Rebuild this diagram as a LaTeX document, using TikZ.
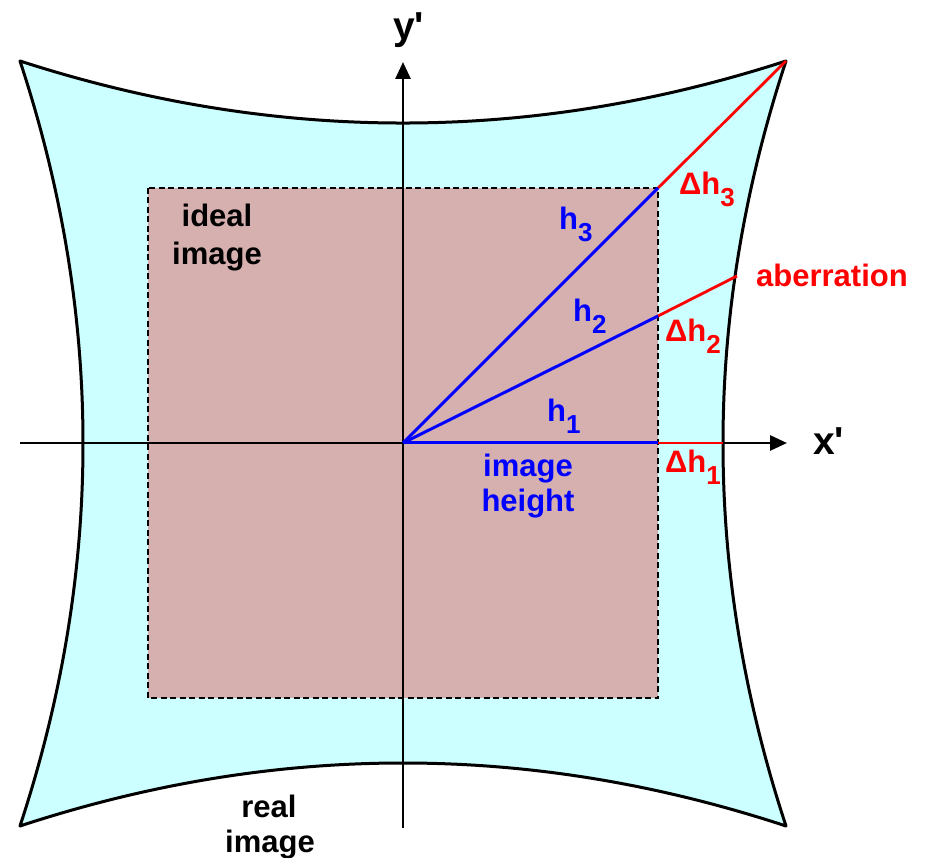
\documentclass[tikz,border=0pt]{standalone}
\usepackage{fontspec}
\setmainfont{Liberation Sans}[Ligatures=TeXOff]
\usetikzlibrary{arrows.meta}
\definecolor{realcol}{RGB}{204,255,255}
\definecolor{idealcol}{RGB}{214,175,175}
\definecolor{hblue}{RGB}{0,0,255}
\definecolor{hred}{RGB}{255,0,0}
\newcommand{\lowsub}[1]{\raisebox{-12pt}{\fontsize{26}{26}\selectfont #1}}
\begin{document}
\begin{tikzpicture}[x=1pt,y=-1pt,
  lbl/.style={inner sep=0pt,font=\fontsize{31}{35}\selectfont\bfseries},
  axislbl/.style={inner sep=0pt,font=\fontsize{39}{39}\selectfont\bfseries},
  axisline/.style={line width=2.8pt,-{Triangle[length=17pt,width=15pt]}},
  bluel/.style={hblue,line width=3pt},
  redl/.style={hred,line width=2.8pt},
  outline/.style={line width=3pt,line join=round}]
\useasboundingbox (0,0) rectangle (930,858);
% key points
\coordinate (TL) at (20,61);
\coordinate (TR) at (786,61);
\coordinate (BR) at (786,826);
\coordinate (BL) at (20,826);
\coordinate (O) at (403,443);
\coordinate (RTL) at (148,188);
\coordinate (RBR) at (658,698);
\coordinate (P3) at (658,188);
\coordinate (P2) at (658,316);
\coordinate (P1) at (658,443);
\coordinate (E2) at (737,276);
\coordinate (E1) at (723,443);
\coordinate (XS) at (20,443);
\coordinate (XE) at (787,443);
\coordinate (YS) at (403,828);
\coordinate (YE) at (403,62);
% real (distorted) image
\fill[realcol] (TL) .. controls (275.3,143.7) and (530.7,143.7) .. (TR)
  .. controls (702,316) and (702,571) .. (BR)
  .. controls (530.7,742) and (275.3,742) .. (BL)
  .. controls (104,571) and (104,316) .. (TL) -- cycle;
\draw[outline] (TL) .. controls (275.3,143.7) and (530.7,143.7) .. (TR)
  .. controls (702,316) and (702,571) .. (BR)
  .. controls (530.7,742) and (275.3,742) .. (BL)
  .. controls (104,571) and (104,316) .. (TL) -- cycle;
% ideal image
\fill[idealcol] (RTL) rectangle (RBR);
\draw[line width=2.4pt,dash pattern=on 6pt off 3.5pt] (RTL) rectangle (RBR);
% axes
\draw[axisline] (XS) -- (XE);
\draw[axisline] (YS) -- (YE);
% red aberrations
\draw[redl] (P3) -- (TR);
\draw[redl] (P2) -- (E2);
\draw[redl] (P1) -- (E1);
% blue heights
\draw[bluel] (O) -- (P3);
\draw[bluel] (O) -- (P2);
\draw[bluel] (O) -- (P1);
% labels
\node[axislbl,anchor=base west] (ylab) at (393,40) {y'};
\node[axislbl,anchor=base west] (xlab) at (813,455) {x'};
\node[lbl,hblue,anchor=base west] (h3) at (559,230) {h\lowsub{3}};
\node[lbl,hblue,anchor=base west] (h2) at (573,322) {h\lowsub{2}};
\node[lbl,hblue,anchor=base west] (h1) at (547,422) {h\lowsub{1}};
\node[lbl,hred,anchor=base west] (dh3) at (679,195) {Δh\lowsub{3}};
\node[lbl,hred,anchor=base west] (dh2) at (665,342) {Δh\lowsub{2}};
\node[lbl,hred,anchor=base west] (dh1) at (665,473) {Δh\lowsub{1}};
\node[lbl,hred,anchor=base west] (ab) at (756,287) {aberration};
\node[lbl,anchor=base] (ideal) at (217,227) {ideal};
\node[lbl,anchor=base] (ideal2) at (217,265) {image};
\node[lbl,hblue,anchor=base] (ih) at (528,477) {image};
\node[lbl,hblue,anchor=base] (ih2) at (528,512) {height};
\node[lbl,anchor=base] (real) at (269,817) {real};
\node[lbl,anchor=base] (real2) at (270,852) {image};
\end{tikzpicture}
\end{document}
